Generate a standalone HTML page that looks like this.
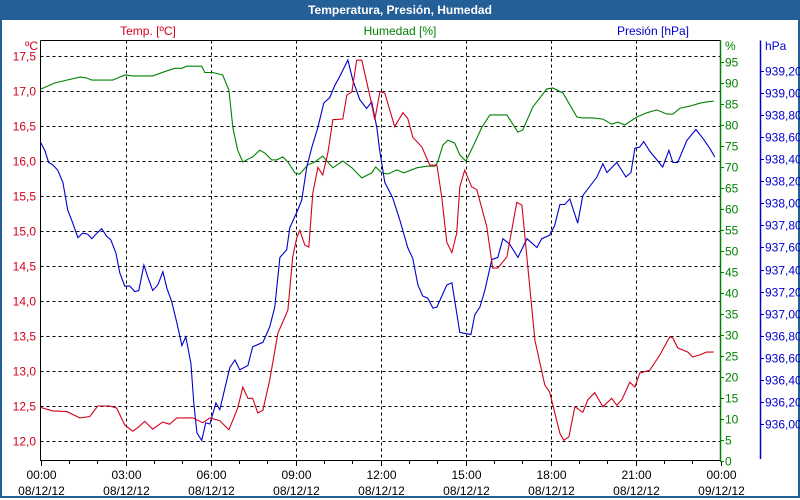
<!DOCTYPE html>
<html><head><meta charset="utf-8"><style>
body{margin:0;width:800px;height:500px;overflow:hidden;background:#fff;font-family:"Liberation Sans",sans-serif}
#frame{position:absolute;left:0;top:0;width:796px;height:496px;border:2px solid #245f98;border-top:none}
#title{position:absolute;left:0;top:0;width:800px;height:20px;background:#245f98;color:#fff;font-weight:bold;font-size:12px;line-height:20px;text-align:center}
svg{position:absolute;left:0;top:0}
text{font-family:"Liberation Sans",sans-serif;font-size:12px}
</style></head><body>
<div id="frame"></div>
<div id="title">Temperatura, Presión, Humedad</div>
<svg id="c" width="800" height="500"></svg>
<script>
const xTickLabels=["00:00","03:00","06:00","09:00","12:00","15:00","18:00","21:00","00:00"];
const xDateLabels=["08/12/12","08/12/12","08/12/12","08/12/12","08/12/12","08/12/12","08/12/12","08/12/12","09/12/12"];
const tempTicks=[12.0,12.5,13.0,13.5,14.0,14.5,15.0,15.5,16.0,16.5,17.0,17.5];
const humTicks=[0,5,10,15,20,25,30,35,40,45,50,55,60,65,70,75,80,85,90,95];
const presTicks=[936.0,936.2,936.4,936.6,936.8,937.0,937.2,937.4,937.6,937.8,938.0,938.2,938.4,938.6,938.8,939.0,939.2];
const tempHours=[0,0.43,0.93,1.39,1.74,2.02,2.44,2.69,2.97,3.25,3.43,3.68,3.96,4.31,4.56,4.81,5.16,5.38,5.73,5.98,6.33,6.65,6.96,7.14,7.32,7.49,7.67,7.85,8.09,8.38,8.73,8.9,9.05,9.15,9.33,9.47,9.61,9.79,9.96,10.14,10.32,10.67,10.81,10.99,11.16,11.34,11.62,11.8,11.98,12.15,12.5,12.79,12.96,13.14,13.46,13.74,13.99,14.16,14.34,14.52,14.69,14.8,14.97,15.22,15.4,15.75,15.96,16.14,16.46,16.81,16.99,17.2,17.45,17.8,17.97,18.33,18.47,18.65,18.86,19.14,19.32,19.56,19.85,20.16,20.34,20.52,20.8,20.98,21.15,21.5,21.86,22.21,22.32,22.49,22.85,23.02,23.27,23.51,23.76];
const tempValues=[12.48,12.43,12.42,12.33,12.35,12.5,12.5,12.47,12.23,12.14,12.19,12.28,12.17,12.27,12.24,12.33,12.33,12.33,12.26,12.33,12.29,12.16,12.47,12.77,12.61,12.61,12.4,12.44,12.87,13.54,13.87,14.63,14.91,15.01,14.8,14.77,15.54,15.91,15.8,16.11,16.59,16.6,16.94,16.99,17.44,17.44,16.94,16.59,16.99,16.97,16.49,16.69,16.61,16.34,16.2,15.94,15.94,15.49,14.84,14.69,14.97,15.63,15.87,15.63,15.59,15.06,14.47,14.47,14.63,15.41,15.37,14.49,13.44,12.8,12.7,12.11,12.01,12.06,12.49,12.41,12.59,12.69,12.49,12.61,12.51,12.59,12.84,12.77,12.97,13.01,13.23,13.49,13.47,13.33,13.27,13.2,13.23,13.27,13.27];
const humHours=[0,0.5,0.93,1.39,1.63,1.81,2.55,2.98,3.26,3.96,4.46,4.74,4.99,5.16,5.69,5.8,6.08,6.43,6.65,6.79,6.96,7.14,7.39,7.49,7.74,7.92,8.16,8.34,8.55,8.73,8.98,9.15,9.43,9.68,9.96,10.32,10.67,10.99,11.34,11.69,11.83,12.05,12.26,12.58,12.82,13.28,13.64,13.92,14.02,14.2,14.38,14.62,14.8,15.01,15.26,15.58,15.86,16.46,16.85,17.02,17.38,17.87,18.08,18.44,18.93,19.14,19.5,19.85,20.16,20.38,20.62,21.05,21.4,21.75,22.11,22.32,22.57,22.92,23.27,23.51,23.76];
const humValues=[88.5,90,90.7,91.4,91.2,90.7,90.7,91.9,91.7,91.7,92.9,93.5,93.5,94,94,92.5,92.5,91.9,88.3,79.3,74,71.2,72.1,72.4,74,73.3,71.7,71.7,72.4,71.2,68.6,68.3,70.5,71.2,72.6,69.8,71.4,69.8,67.4,68.6,70,68.6,68.3,69.3,68.6,69.8,70.2,70.2,71.2,75.2,76.4,75.7,72.9,71.4,74.8,79.5,82.4,82.4,78.3,78.8,84.3,88.6,88.8,87.6,81.9,81.7,81.7,81.4,80.2,80.7,80,81.9,82.9,83.6,82.6,82.6,84,84.5,85.2,85.5,85.7];
const presHours=[0.01,0.15,0.29,0.43,0.61,0.79,0.96,1.14,1.32,1.49,1.67,1.81,1.99,2.16,2.34,2.48,2.66,2.8,2.97,3.15,3.33,3.47,3.65,3.79,3.96,4.14,4.32,4.46,4.63,4.81,4.99,5.13,5.31,5.41,5.52,5.69,5.83,5.98,6.19,6.33,6.68,6.86,7.03,7.32,7.49,7.85,8.09,8.27,8.45,8.69,8.8,9.08,9.22,9.4,9.58,9.79,10,10.21,10.39,10.56,10.85,11.02,11.27,11.51,11.69,11.87,11.97,12.15,12.43,12.68,12.96,13.14,13.32,13.49,13.67,13.85,13.99,14.34,14.52,14.62,14.8,15.19,15.33,15.51,15.68,15.93,16.14,16.32,16.56,16.85,17.17,17.52,17.69,17.97,18.15,18.33,18.5,18.68,18.96,19.14,19.64,19.85,19.99,20.34,20.66,20.84,20.98,21.15,21.29,21.51,21.96,22.18,22.32,22.49,22.81,23.13,23.38,23.62,23.8];
const presValues=[938.55,938.48,938.37,938.35,938.3,938.19,937.94,937.82,937.69,937.73,937.72,937.68,937.73,937.77,937.7,937.67,937.55,937.37,937.25,937.25,937.2,937.21,937.44,937.33,937.21,937.26,937.38,937.23,937.11,936.92,936.71,936.79,936.55,936.19,935.92,935.85,936.01,936,936.19,936.13,936.51,936.58,936.49,936.53,936.7,936.74,936.88,937.06,937.51,937.58,937.78,937.94,938.03,938.33,938.51,938.69,938.91,938.96,939.07,939.15,939.3,939.12,938.94,938.86,938.92,938.69,938.48,938.19,938.05,937.85,937.6,937.5,937.26,937.16,937.14,937.05,937.06,937.26,937.28,937.12,936.83,936.81,936.99,937.06,937.21,937.49,937.51,937.68,937.63,937.51,937.68,937.6,937.68,937.71,937.8,937.99,937.99,938.04,937.82,938.07,938.24,938.36,938.28,938.37,938.24,938.28,938.5,938.51,938.56,938.47,938.33,938.48,938.37,938.37,938.57,938.67,938.59,938.5,938.42];

const NS="http://www.w3.org/2000/svg";
const svg=document.getElementById('c');
const L=40.5,R=720.5,T=40.5,B=461;
const RED="#d0021b",GREEN="#008000",BLUE="#0000cc";
const xS=h=>L+h*(R-L)/24;
const yT=v=>56+(17.5-v)*70;
const yH=v=>461-v*4.2;
const yP=v=>71+(939.2-v)*110.3;
function mk(tag,attrs,parent){const e=document.createElementNS(NS,tag);for(const k in attrs)e.setAttribute(k,attrs[k]);(parent||svg).appendChild(e);return e;}

const grid=mk('g',{});


tempTicks.forEach(v=>{const y=Math.round(yT(v))+0.5;
  const l=mk('line',{x1:L,x2:R,y1:y,y2:y,stroke:'#000','stroke-dasharray':'3,3'},grid);
  
  
  const t=mk('text',{x:36,y:y+4,'text-anchor':'end',fill:RED});t.textContent=v.toFixed(1).replace('.',',');
  
  
});
xTickLabels.forEach((s,i)=>{const x=Math.round(xS(i*3))+0.5;
  if(i>0&&i<8){const l=mk('line',{x1:x,x2:x,y1:T,y2:B,stroke:'#000','stroke-dasharray':'3,3'},grid);
  
  }
  const t=mk('text',{x:x,y:479,'text-anchor':'middle',fill:'#000'});t.textContent=s;
  
  
  const d=mk('text',{x:x,y:495,'text-anchor':'middle',fill:'#000'});d.textContent=xDateLabels[i];
  
  
});
for(let h=0;h<=24;h++){const x=Math.round(xS(h))+0.5;mk('line',{x1:x,x2:x,y1:B,y2:B+(h%3?3:5),stroke:'#000'});}
humTicks.forEach(v=>{const y=Math.round(yH(v))+0.5;mk('line',{x1:720,x2:724,y1:y,y2:y,stroke:GREEN});
  const t=mk('text',{x:725,y:y+4,fill:GREEN});t.textContent=v;
  
  });
presTicks.forEach(v=>{const y=Math.round(yP(v))+0.5;mk('line',{x1:760,x2:764,y1:y,y2:y,stroke:BLUE});
  const t=mk('text',{x:765,y:y+4,fill:BLUE});t.textContent=v.toFixed(2).replace('.',',');
  
  });

// axes
mk('line',{x1:L,x2:R,y1:T,y2:T,stroke:'#000'});
mk('line',{x1:L,x2:L,y1:T,y2:B,stroke:'#000'});
mk('line',{x1:L,x2:R,y1:B-0.5,y2:B-0.5,stroke:'#000'});
mk('line',{x1:R,x2:R,y1:T,y2:B,stroke:GREEN,'stroke-width':1.5});
mk('line',{x1:760.5,x2:760.5,y1:T,y2:B-2,stroke:BLUE,'stroke-width':1.5});

function series(hs,vs,yf,col,name){
  const p=hs.map((h,i)=>xS(h).toFixed(1)+','+yf(vs[i]).toFixed(1)).join(' ');
  const e=mk('polyline',{points:p,fill:'none',stroke:col,'stroke-width':1.1});
  
  
}
series(humHours,humValues,yH,GREEN,'humidity-line');
series(presHours,presValues,yP,BLUE,'pressure-line');
series(tempHours,tempValues,yT,RED,'temperature-line');

function label(x,y,s,col,anchor,name){const t=mk('text',{x:x,y:y,fill:col,'text-anchor':anchor});t.textContent=s;
  
  }
label(148,35,'Temp. [ºC]',RED,'middle','temp-axis-title');
label(400,35,'Humedad [%]',GREEN,'middle','humidity-axis-title');
label(653,35,'Presión [hPa]',BLUE,'middle','pressure-axis-title');
label(38,50,'ºC',RED,'end','temp-unit');
label(725,50,'%',GREEN,'start','humidity-unit');
label(765,50,'hPa',BLUE,'start','pressure-unit');
</script>
</body></html>
